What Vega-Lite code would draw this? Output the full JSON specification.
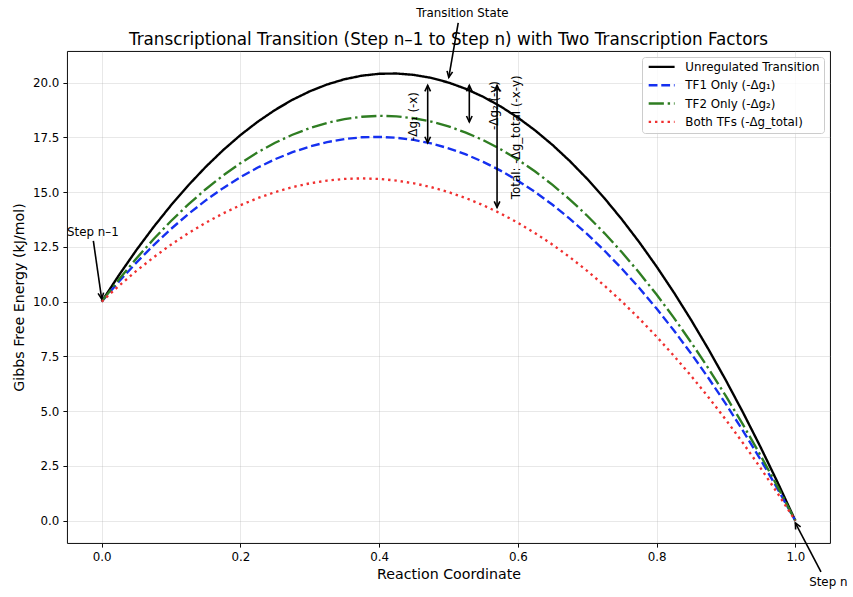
{
  "$schema": "https://vega.github.io/schema/vega-lite/v6.json",
  "width": 763,
  "height": 492,
  "autosize": {"type": "none"},
  "padding": {"left": 67, "top": 51, "right": 23, "bottom": 54},
  "background": "white",
  "title": {
    "text": "Transcriptional Transition (Step n–1 to Step n) with Two Transcription Factors",
    "font": "DejaVu Sans",
    "fontSize": 16.8,
    "fontWeight": "normal",
    "color": "black",
    "anchor": "middle",
    "baseline": "alphabetic",
    "offset": 6,
    "dy": 60
  },
  "datasets": {
    "curves": [
      {"s": "Unregulated Transition", "x": 0, "g": 10},
      {"s": "Unregulated Transition", "x": 0.025, "g": 11.2125},
      {"s": "Unregulated Transition", "x": 0.05, "g": 12.35},
      {"s": "Unregulated Transition", "x": 0.075, "g": 13.4125},
      {"s": "Unregulated Transition", "x": 0.1, "g": 14.4},
      {"s": "Unregulated Transition", "x": 0.125, "g": 15.3125},
      {"s": "Unregulated Transition", "x": 0.15, "g": 16.15},
      {"s": "Unregulated Transition", "x": 0.175, "g": 16.9125},
      {"s": "Unregulated Transition", "x": 0.2, "g": 17.6},
      {"s": "Unregulated Transition", "x": 0.225, "g": 18.2125},
      {"s": "Unregulated Transition", "x": 0.25, "g": 18.75},
      {"s": "Unregulated Transition", "x": 0.275, "g": 19.2125},
      {"s": "Unregulated Transition", "x": 0.3, "g": 19.6},
      {"s": "Unregulated Transition", "x": 0.325, "g": 19.9125},
      {"s": "Unregulated Transition", "x": 0.35, "g": 20.15},
      {"s": "Unregulated Transition", "x": 0.375, "g": 20.3125},
      {"s": "Unregulated Transition", "x": 0.4, "g": 20.4},
      {"s": "Unregulated Transition", "x": 0.425, "g": 20.4125},
      {"s": "Unregulated Transition", "x": 0.45, "g": 20.35},
      {"s": "Unregulated Transition", "x": 0.475, "g": 20.2125},
      {"s": "Unregulated Transition", "x": 0.5, "g": 20},
      {"s": "Unregulated Transition", "x": 0.525, "g": 19.7125},
      {"s": "Unregulated Transition", "x": 0.55, "g": 19.35},
      {"s": "Unregulated Transition", "x": 0.575, "g": 18.9125},
      {"s": "Unregulated Transition", "x": 0.6, "g": 18.4},
      {"s": "Unregulated Transition", "x": 0.625, "g": 17.8125},
      {"s": "Unregulated Transition", "x": 0.65, "g": 17.15},
      {"s": "Unregulated Transition", "x": 0.675, "g": 16.4125},
      {"s": "Unregulated Transition", "x": 0.7, "g": 15.6},
      {"s": "Unregulated Transition", "x": 0.725, "g": 14.7125},
      {"s": "Unregulated Transition", "x": 0.75, "g": 13.75},
      {"s": "Unregulated Transition", "x": 0.775, "g": 12.7125},
      {"s": "Unregulated Transition", "x": 0.8, "g": 11.6},
      {"s": "Unregulated Transition", "x": 0.825, "g": 10.4125},
      {"s": "Unregulated Transition", "x": 0.85, "g": 9.15},
      {"s": "Unregulated Transition", "x": 0.875, "g": 7.8125},
      {"s": "Unregulated Transition", "x": 0.9, "g": 6.4},
      {"s": "Unregulated Transition", "x": 0.925, "g": 4.9125},
      {"s": "Unregulated Transition", "x": 0.95, "g": 3.35},
      {"s": "Unregulated Transition", "x": 0.975, "g": 1.7125},
      {"s": "Unregulated Transition", "x": 1, "g": 0},
      {"s": "TF1 Only (-Δg₁)", "x": 0, "g": 10},
      {"s": "TF1 Only (-Δg₁)", "x": 0.025, "g": 10.92},
      {"s": "TF1 Only (-Δg₁)", "x": 0.05, "g": 11.78},
      {"s": "TF1 Only (-Δg₁)", "x": 0.075, "g": 12.58},
      {"s": "TF1 Only (-Δg₁)", "x": 0.1, "g": 13.32},
      {"s": "TF1 Only (-Δg₁)", "x": 0.125, "g": 14.0},
      {"s": "TF1 Only (-Δg₁)", "x": 0.15, "g": 14.62},
      {"s": "TF1 Only (-Δg₁)", "x": 0.175, "g": 15.18},
      {"s": "TF1 Only (-Δg₁)", "x": 0.2, "g": 15.68},
      {"s": "TF1 Only (-Δg₁)", "x": 0.225, "g": 16.12},
      {"s": "TF1 Only (-Δg₁)", "x": 0.25, "g": 16.5},
      {"s": "TF1 Only (-Δg₁)", "x": 0.275, "g": 16.82},
      {"s": "TF1 Only (-Δg₁)", "x": 0.3, "g": 17.08},
      {"s": "TF1 Only (-Δg₁)", "x": 0.325, "g": 17.28},
      {"s": "TF1 Only (-Δg₁)", "x": 0.35, "g": 17.42},
      {"s": "TF1 Only (-Δg₁)", "x": 0.375, "g": 17.5},
      {"s": "TF1 Only (-Δg₁)", "x": 0.4, "g": 17.52},
      {"s": "TF1 Only (-Δg₁)", "x": 0.425, "g": 17.48},
      {"s": "TF1 Only (-Δg₁)", "x": 0.45, "g": 17.38},
      {"s": "TF1 Only (-Δg₁)", "x": 0.475, "g": 17.22},
      {"s": "TF1 Only (-Δg₁)", "x": 0.5, "g": 17},
      {"s": "TF1 Only (-Δg₁)", "x": 0.525, "g": 16.72},
      {"s": "TF1 Only (-Δg₁)", "x": 0.55, "g": 16.38},
      {"s": "TF1 Only (-Δg₁)", "x": 0.575, "g": 15.98},
      {"s": "TF1 Only (-Δg₁)", "x": 0.6, "g": 15.52},
      {"s": "TF1 Only (-Δg₁)", "x": 0.625, "g": 15.0},
      {"s": "TF1 Only (-Δg₁)", "x": 0.65, "g": 14.42},
      {"s": "TF1 Only (-Δg₁)", "x": 0.675, "g": 13.78},
      {"s": "TF1 Only (-Δg₁)", "x": 0.7, "g": 13.08},
      {"s": "TF1 Only (-Δg₁)", "x": 0.725, "g": 12.32},
      {"s": "TF1 Only (-Δg₁)", "x": 0.75, "g": 11.5},
      {"s": "TF1 Only (-Δg₁)", "x": 0.775, "g": 10.62},
      {"s": "TF1 Only (-Δg₁)", "x": 0.8, "g": 9.68},
      {"s": "TF1 Only (-Δg₁)", "x": 0.825, "g": 8.68},
      {"s": "TF1 Only (-Δg₁)", "x": 0.85, "g": 7.62},
      {"s": "TF1 Only (-Δg₁)", "x": 0.875, "g": 6.5},
      {"s": "TF1 Only (-Δg₁)", "x": 0.9, "g": 5.32},
      {"s": "TF1 Only (-Δg₁)", "x": 0.925, "g": 4.08},
      {"s": "TF1 Only (-Δg₁)", "x": 0.95, "g": 2.78},
      {"s": "TF1 Only (-Δg₁)", "x": 0.975, "g": 1.42},
      {"s": "TF1 Only (-Δg₁)", "x": 1, "g": 0},
      {"s": "TF2 Only (-Δg₂)", "x": 0, "g": 10},
      {"s": "TF2 Only (-Δg₂)", "x": 0.025, "g": 11.0175},
      {"s": "TF2 Only (-Δg₂)", "x": 0.05, "g": 11.97},
      {"s": "TF2 Only (-Δg₂)", "x": 0.075, "g": 12.8575},
      {"s": "TF2 Only (-Δg₂)", "x": 0.1, "g": 13.68},
      {"s": "TF2 Only (-Δg₂)", "x": 0.125, "g": 14.4375},
      {"s": "TF2 Only (-Δg₂)", "x": 0.15, "g": 15.13},
      {"s": "TF2 Only (-Δg₂)", "x": 0.175, "g": 15.7575},
      {"s": "TF2 Only (-Δg₂)", "x": 0.2, "g": 16.32},
      {"s": "TF2 Only (-Δg₂)", "x": 0.225, "g": 16.8175},
      {"s": "TF2 Only (-Δg₂)", "x": 0.25, "g": 17.25},
      {"s": "TF2 Only (-Δg₂)", "x": 0.275, "g": 17.6175},
      {"s": "TF2 Only (-Δg₂)", "x": 0.3, "g": 17.92},
      {"s": "TF2 Only (-Δg₂)", "x": 0.325, "g": 18.1575},
      {"s": "TF2 Only (-Δg₂)", "x": 0.35, "g": 18.33},
      {"s": "TF2 Only (-Δg₂)", "x": 0.375, "g": 18.4375},
      {"s": "TF2 Only (-Δg₂)", "x": 0.4, "g": 18.48},
      {"s": "TF2 Only (-Δg₂)", "x": 0.425, "g": 18.4575},
      {"s": "TF2 Only (-Δg₂)", "x": 0.45, "g": 18.37},
      {"s": "TF2 Only (-Δg₂)", "x": 0.475, "g": 18.2175},
      {"s": "TF2 Only (-Δg₂)", "x": 0.5, "g": 18},
      {"s": "TF2 Only (-Δg₂)", "x": 0.525, "g": 17.7175},
      {"s": "TF2 Only (-Δg₂)", "x": 0.55, "g": 17.37},
      {"s": "TF2 Only (-Δg₂)", "x": 0.575, "g": 16.9575},
      {"s": "TF2 Only (-Δg₂)", "x": 0.6, "g": 16.48},
      {"s": "TF2 Only (-Δg₂)", "x": 0.625, "g": 15.9375},
      {"s": "TF2 Only (-Δg₂)", "x": 0.65, "g": 15.33},
      {"s": "TF2 Only (-Δg₂)", "x": 0.675, "g": 14.6575},
      {"s": "TF2 Only (-Δg₂)", "x": 0.7, "g": 13.92},
      {"s": "TF2 Only (-Δg₂)", "x": 0.725, "g": 13.1175},
      {"s": "TF2 Only (-Δg₂)", "x": 0.75, "g": 12.25},
      {"s": "TF2 Only (-Δg₂)", "x": 0.775, "g": 11.3175},
      {"s": "TF2 Only (-Δg₂)", "x": 0.8, "g": 10.32},
      {"s": "TF2 Only (-Δg₂)", "x": 0.825, "g": 9.2575},
      {"s": "TF2 Only (-Δg₂)", "x": 0.85, "g": 8.13},
      {"s": "TF2 Only (-Δg₂)", "x": 0.875, "g": 6.9375},
      {"s": "TF2 Only (-Δg₂)", "x": 0.9, "g": 5.68},
      {"s": "TF2 Only (-Δg₂)", "x": 0.925, "g": 4.3575},
      {"s": "TF2 Only (-Δg₂)", "x": 0.95, "g": 2.97},
      {"s": "TF2 Only (-Δg₂)", "x": 0.975, "g": 1.5175},
      {"s": "TF2 Only (-Δg₂)", "x": 1, "g": 0},
      {"s": "Both TFs (-Δg_total)", "x": 0, "g": 10},
      {"s": "Both TFs (-Δg_total)", "x": 0.025, "g": 10.725},
      {"s": "Both TFs (-Δg_total)", "x": 0.05, "g": 11.4},
      {"s": "Both TFs (-Δg_total)", "x": 0.075, "g": 12.025},
      {"s": "Both TFs (-Δg_total)", "x": 0.1, "g": 12.6},
      {"s": "Both TFs (-Δg_total)", "x": 0.125, "g": 13.125},
      {"s": "Both TFs (-Δg_total)", "x": 0.15, "g": 13.6},
      {"s": "Both TFs (-Δg_total)", "x": 0.175, "g": 14.025},
      {"s": "Both TFs (-Δg_total)", "x": 0.2, "g": 14.4},
      {"s": "Both TFs (-Δg_total)", "x": 0.225, "g": 14.725},
      {"s": "Both TFs (-Δg_total)", "x": 0.25, "g": 15.0},
      {"s": "Both TFs (-Δg_total)", "x": 0.275, "g": 15.225},
      {"s": "Both TFs (-Δg_total)", "x": 0.3, "g": 15.4},
      {"s": "Both TFs (-Δg_total)", "x": 0.325, "g": 15.525},
      {"s": "Both TFs (-Δg_total)", "x": 0.35, "g": 15.6},
      {"s": "Both TFs (-Δg_total)", "x": 0.375, "g": 15.625},
      {"s": "Both TFs (-Δg_total)", "x": 0.4, "g": 15.6},
      {"s": "Both TFs (-Δg_total)", "x": 0.425, "g": 15.525},
      {"s": "Both TFs (-Δg_total)", "x": 0.45, "g": 15.4},
      {"s": "Both TFs (-Δg_total)", "x": 0.475, "g": 15.225},
      {"s": "Both TFs (-Δg_total)", "x": 0.5, "g": 15},
      {"s": "Both TFs (-Δg_total)", "x": 0.525, "g": 14.725},
      {"s": "Both TFs (-Δg_total)", "x": 0.55, "g": 14.4},
      {"s": "Both TFs (-Δg_total)", "x": 0.575, "g": 14.025},
      {"s": "Both TFs (-Δg_total)", "x": 0.6, "g": 13.6},
      {"s": "Both TFs (-Δg_total)", "x": 0.625, "g": 13.125},
      {"s": "Both TFs (-Δg_total)", "x": 0.65, "g": 12.6},
      {"s": "Both TFs (-Δg_total)", "x": 0.675, "g": 12.025},
      {"s": "Both TFs (-Δg_total)", "x": 0.7, "g": 11.4},
      {"s": "Both TFs (-Δg_total)", "x": 0.725, "g": 10.725},
      {"s": "Both TFs (-Δg_total)", "x": 0.75, "g": 10.0},
      {"s": "Both TFs (-Δg_total)", "x": 0.775, "g": 9.225},
      {"s": "Both TFs (-Δg_total)", "x": 0.8, "g": 8.4},
      {"s": "Both TFs (-Δg_total)", "x": 0.825, "g": 7.525},
      {"s": "Both TFs (-Δg_total)", "x": 0.85, "g": 6.6},
      {"s": "Both TFs (-Δg_total)", "x": 0.875, "g": 5.625},
      {"s": "Both TFs (-Δg_total)", "x": 0.9, "g": 4.6},
      {"s": "Both TFs (-Δg_total)", "x": 0.925, "g": 3.525},
      {"s": "Both TFs (-Δg_total)", "x": 0.95, "g": 2.4},
      {"s": "Both TFs (-Δg_total)", "x": 0.975, "g": 1.225},
      {"s": "Both TFs (-Δg_total)", "x": 1, "g": 0}
    ],
    "shafts": [
      {"id": "ts", "x": 0.514, "y": 22.72, "x2": 0.5004, "y2": 20.24},
      {"id": "n1", "x": -0.012, "y": 12.77, "x2": 0, "y2": 10.12},
      {"id": "n", "x": 1.037, "y": -2.34, "x2": 1.0, "y2": -0.105},
      {"id": "d1", "x": 0.47, "y": 19.87, "x2": 0.47, "y2": 17.25},
      {"id": "d2", "x": 0.53, "y": 19.87, "x2": 0.53, "y2": 18.2},
      {"id": "d3", "x": 0.57, "y": 19.87, "x2": 0.57, "y2": 14.3}
    ],
    "tips": [
      {"id": "d1", "end": "top", "x": 0.47, "y": 19.87},
      {"id": "d2", "end": "top", "x": 0.53, "y": 19.87},
      {"id": "d3", "end": "top", "x": 0.57, "y": 19.87},
      {"id": "d1", "end": "bottom", "x": 0.47, "y": 17.25},
      {"id": "d2", "end": "bottom", "x": 0.53, "y": 18.2},
      {"id": "d3", "end": "bottom", "x": 0.57, "y": 14.3},
      {"id": "ts", "end": "target", "x": 0.5004, "y": 20.24},
      {"id": "n1", "end": "target", "x": 0, "y": 10.12},
      {"id": "n", "end": "target", "x": 1.0, "y": -0.105}
    ],
    "notes": [
      {"id": "ts", "x": 0.52, "y": 23, "label": "Transition State"},
      {"id": "n1", "x": -0.05, "y": 13, "label": "Step n–1"},
      {"id": "n", "x": 1.02, "y": -3, "label": "Step n"}
    ],
    "deltas": [
      {"x": 0.449, "y": 18.45, "label": "-Δg₁ (-x)"},
      {"x": 0.566, "y": 18.95, "label": "-Δg₂ (-y)"},
      {"x": 0.597, "y": 17.5, "label": "Total: -Δg_total (-x-y)"}
    ]
  },
  "encoding": {
    "x": {
      "field": "x",
      "type": "quantitative",
      "scale": {"domain": [-0.05, 1.05], "nice": false, "zero": false},
      "axis": {
        "title": "Reaction Coordinate",
        "values": [0, 0.2, 0.4, 0.6, 0.8, 1.0],
        "format": ".1f",
        "titlePadding": 4
      }
    },
    "y": {
      "field": "y",
      "type": "quantitative",
      "scale": {"domain": [-1.02, 21.44], "nice": false, "zero": false},
      "axis": {
        "title": "Gibbs Free Energy (kJ/mol)",
        "values": [0, 2.5, 5, 7.5, 10, 12.5, 15, 17.5, 20],
        "format": ".1f",
        "titlePadding": 6
      }
    }
  },
  "layer": [
    {
      "data": {"name": "curves"},
      "mark": {"type": "line", "strokeWidth": 2.37, "strokeCap": "butt"},
      "encoding": {
        "y": {"field": "g", "type": "quantitative"},
        "color": {
          "field": "s",
          "type": "nominal",
          "sort": null,
          "scale": {
            "domain": ["Unregulated Transition", "TF1 Only (-Δg₁)", "TF2 Only (-Δg₂)", "Both TFs (-Δg_total)"],
            "range": ["#000000", "#1530f0", "#2f7d22", "#f03030"]
          },
          "legend": {"title": null}
        },
        "strokeDash": {
          "field": "s",
          "type": "nominal",
          "sort": null,
          "scale": {
            "domain": ["Unregulated Transition", "TF1 Only (-Δg₁)", "TF2 Only (-Δg₂)", "Both TFs (-Δg_total)"],
            "range": [[1, 0], [8.8, 3.8], [15.2, 3.8, 2.4, 3.8], [2.4, 3.9]]
          },
          "legend": {"title": null}
        }
      }
    },
    {
      "data": {"name": "shafts"},
      "mark": {"type": "rule", "color": "black", "strokeWidth": 1.6},
      "encoding": {
        "x2": {"field": "x2"},
        "y2": {"field": "y2"}
      }
    },
    {
      "data": {"name": "tips"},
      "transform": [{"filter": "datum.end == 'top'"}],
      "mark": {"type": "point", "shape": "M-0.47,1L0,0L0.47,1", "size": 144, "filled": false, "stroke": "black", "strokeWidth": 1.6, "opacity": 1, "angle": 0}
    },
    {
      "data": {"name": "tips"},
      "transform": [{"filter": "datum.end == 'bottom'"}],
      "mark": {"type": "point", "shape": "M-0.47,1L0,0L0.47,1", "size": 144, "filled": false, "stroke": "black", "strokeWidth": 1.6, "opacity": 1, "angle": 180}
    },
    {
      "data": {"name": "tips"},
      "transform": [{"filter": "datum.id == 'ts'"}],
      "mark": {"type": "point", "shape": "M-0.47,1L0,0L0.47,1", "size": 144, "filled": false, "stroke": "black", "strokeWidth": 1.6, "opacity": 1, "angle": 190}
    },
    {
      "data": {"name": "tips"},
      "transform": [{"filter": "datum.id == 'n1'"}],
      "mark": {"type": "point", "shape": "M-0.47,1L0,0L0.47,1", "size": 144, "filled": false, "stroke": "black", "strokeWidth": 1.6, "opacity": 1, "angle": 172}
    },
    {
      "data": {"name": "tips"},
      "transform": [{"filter": "datum.id == 'n'"}],
      "mark": {"type": "point", "shape": "M-0.47,1L0,0L0.47,1", "size": 144, "filled": false, "stroke": "black", "strokeWidth": 1.6, "opacity": 1, "angle": 332}
    },
    {
      "data": {"name": "notes"},
      "transform": [{"filter": "datum.id == 'ts'"}],
      "mark": {"type": "text", "font": "DejaVu Sans", "fontSize": 11.85, "color": "black", "align": "center", "baseline": "alphabetic"},
      "encoding": {"text": {"field": "label"}}
    },
    {
      "data": {"name": "notes"},
      "transform": [{"filter": "datum.id != 'ts'"}],
      "mark": {"type": "text", "font": "DejaVu Sans", "fontSize": 11.85, "color": "black", "align": "left", "baseline": "alphabetic"},
      "encoding": {"text": {"field": "label"}}
    },
    {
      "data": {"name": "deltas"},
      "mark": {"type": "text", "font": "DejaVu Sans", "fontSize": 11.85, "color": "black", "align": "center", "baseline": "middle", "angle": 270},
      "encoding": {"text": {"field": "label"}}
    }
  ],
  "config": {
    "view": {"stroke": "black", "strokeWidth": 0.95},
    "axis": {
      "domain": false,
      "grid": true,
      "gridColor": "#b0b0b0",
      "gridOpacity": 0.3,
      "gridWidth": 0.95,
      "ticks": true,
      "tickColor": "black",
      "tickWidth": 0.95,
      "tickSize": 4.1,
      "labelPadding": 4.1,
      "labelFont": "DejaVu Sans",
      "labelFontSize": 11.85,
      "labelColor": "black",
      "labelFlush": false,
      "labelOverlap": false,
      "titleFont": "DejaVu Sans",
      "titleFontSize": 14.2,
      "titleFontWeight": "normal",
      "titleColor": "black"
    },
    "legend": {
      "orient": "top-right",
      "offset": 6,
      "padding": 4,
      "fillColor": "rgba(255,255,255,0.8)",
      "strokeColor": "#cccccc",
      "strokeWidth": 1,
      "cornerRadius": 3,
      "symbolType": "M-1,0H7",
      "symbolSize": 42,
      "symbolStrokeWidth": 2.37,
      "labelOffset": 27.5,
      "rowPadding": 5.3,
      "labelFont": "DejaVu Sans",
      "labelFontSize": 11.85,
      "labelColor": "black",
      "labelLimit": 300
    }
  }
}
